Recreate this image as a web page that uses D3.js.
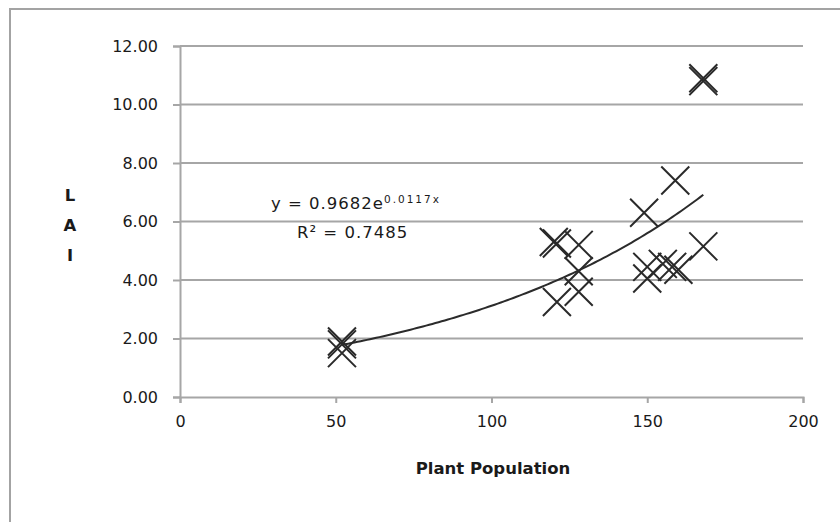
<!DOCTYPE html>
<html>
<head>
<meta charset="utf-8">
<script src="https://cdn.jsdelivr.net/npm/d3@7"></script>
<style>
    body { margin: 0; background: #ffffff; }
    svg { display: block; }
    text { font-family: "DejaVu Sans", sans-serif; fill: #1a1a1a; }
    .tick text { font-size: 16px; }
    .label { font-size: 16.5px; font-weight: 700; }
    .equation { font-size: 16.5px; letter-spacing: 1px; }
</style>
</head>
<body>
<svg id="svgLAI" width="840" height="522"></svg>
<script>

// Plant population (x) and LAI (y)
var plantPopulation = [52, 52, 52, 120, 121, 121, 128, 128, 128, 149, 150, 150, 155, 158, 160, 159, 168, 168, 168];
var laiValues = [1.9, 1.8, 1.5, 5.3, 5.25, 3.25, 5.2, 4.3, 3.6, 6.3, 4.45, 4.05, 4.55, 4.45, 4.35, 7.4, 5.15, 10.9, 10.8];

// Axis ticks
var xTicks = [0, 50, 100, 150, 200];
var yTicks = [0, 2, 4, 6, 8, 10, 12];

// Exponential trendline y = a * e^(b x)
var trendA = 0.9682;
var trendB = 0.0117;
var equationText = "y = 0.9682e";
var exponentText = "0.0117x";
var rSquaredText = "R\u00b2 = 0.7485";

function lineChart() {
    /*
    Draws the LAI vs plant population scatter with its exponential trendline
    */

    var padding = {
        top: 46,
        right: 37,
        bottom: 125,
        left: 180
    };

    var svgWidth = 840;
    var svgHeight = 522;

    var chartWidth = svgWidth - padding.left - padding.right;
    var chartHeight = svgHeight - padding.top - padding.bottom;

    var svg = d3.select("#svgLAI");

    // Outer chart border
    svg.append("rect")
        .attr("x", 10)
        .attr("y", 9)
        .attr("width", 860)
        .attr("height", 560)
        .attr("fill", "none")
        .attr("stroke", "#a3a3a3")
        .attr("stroke-width", 2);

    var chart = svg.append("g")
        .attr("transform", `translate(${padding.left}, ${padding.top})`);

    // Scaling functions
    var xScale = d3.scaleLinear()
        .range([0, chartWidth])
        .domain([0, 200]);

    var yScale = d3.scaleLinear()
        .range([chartHeight, 0])
        .domain([0, 12]);

    // Horizontal gridlines
    chart.append("g")
        .attr("class", "grid")
        .selectAll("line")
        .data(yTicks.slice(1))
        .enter()
        .append("line")
            .attr("x1", 0)
            .attr("x2", chartWidth)
            .attr("y1", d => yScale(d))
            .attr("y2", d => yScale(d))
            .attr("stroke", "#a6a6a6")
            .attr("stroke-width", 2);

    // Draw y-axis
    chart.append("g")
        .attr("class", "axis")
        .call(d3.axisLeft(yScale)
            .tickValues(yTicks)
            .tickSize(7)
            .tickPadding(15)
            .tickFormat(d3.format(".2f"))
        );

    // Draw x-axis
    chart.append("g")
        .attr("class", "axis")
        .attr("transform", `translate(0, ${chartHeight})`)
        .call(d3.axisBottom(xScale)
            .tickValues(xTicks)
            .tickSize(6)
            .tickPadding(13)
            .tickFormat(d3.format("d"))
        );

    chart.selectAll(".axis path, .axis line")
        .attr("stroke", "#a6a6a6")
        .attr("stroke-width", 2);

    chart.selectAll(".axis .tick text")
        .attr("fill", "#1a1a1a");

    // x label
    svg.append("text")
        .attr("class", "label")
        .attr("x", 493)
        .attr("y", 474)
        .attr("text-anchor", "middle")
        .text("Plant Population");

    // y label, stacked letters
    svg.selectAll(".ylabel")
        .data(["L", "A", "I"])
        .enter()
        .append("text")
            .attr("class", "label")
            .attr("x", 70)
            .attr("y", (d, i) => 201 + i * 30)
            .attr("text-anchor", "middle")
            .text(d => d);

    // Trendline from the smallest to the largest population
    var trendX = d3.range(d3.min(plantPopulation), d3.max(plantPopulation) + 0.5, 1);
    var trendLine = d3.line()
        .x(d => xScale(d))
        .y(d => yScale(trendA * Math.exp(trendB * d)));

    chart.append("path")
        .datum(trendX)
        .attr("d", trendLine)
        .attr("fill", "none")
        .attr("stroke", "#2b2b2b")
        .attr("stroke-width", 2);

    // Cross markers
    var size = 14;
    chart.selectAll(".point")
        .data(d3.zip(plantPopulation, laiValues))
        .enter()
        .append("path")
            .attr("class", "point")
            .attr("transform", d => `translate(${xScale(d[0])}, ${yScale(d[1])})`)
            .attr("d", `M${-size},${-size}L${size},${size}M${size},${-size}L${-size},${size}`)
            .attr("fill", "none")
            .attr("stroke", "#2a2a2a")
            .attr("stroke-width", 2);

    // Trendline equation
    var eq = svg.append("text")
        .attr("class", "equation")
        .attr("x", 271)
        .attr("y", 209);
    eq.append("tspan").text(equationText);
    eq.append("tspan")
        .attr("dy", -6)
        .style("font-size", "10.5px")
        .style("letter-spacing", "2px")
        .text(exponentText);

    svg.append("text")
        .attr("class", "equation")
        .attr("x", 297)
        .attr("y", 238)
        .text(rSquaredText);
};

lineChart();
</script>
</body>
</html>
